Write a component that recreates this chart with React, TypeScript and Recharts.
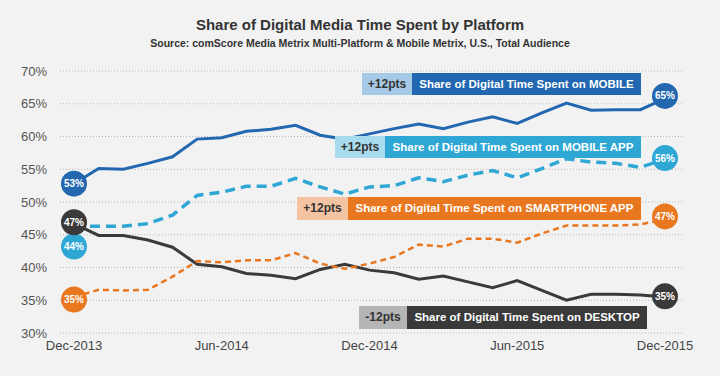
import React from 'react';
import {
    LineChart,
    Line,
    XAxis,
    YAxis,
    CartesianGrid,
    ReferenceDot,
} from 'recharts';

const months = [
    'Dec-2013', 'Jan-2014', 'Feb-2014', 'Mar-2014', 'Apr-2014', 'May-2014', 'Jun-2014',
    'Jul-2014', 'Aug-2014', 'Sep-2014', 'Oct-2014', 'Nov-2014', 'Dec-2014',
    'Jan-2015', 'Feb-2015', 'Mar-2015', 'Apr-2015', 'May-2015', 'Jun-2015',
    'Jul-2015', 'Aug-2015', 'Sep-2015', 'Oct-2015', 'Nov-2015', 'Dec-2015',
];

const mobile = [52.8, 55.1, 55.0, 55.9, 56.9, 59.6, 59.8, 60.8, 61.1, 61.7, 60.2, 59.6, 60.4, 61.2, 61.9, 61.2, 62.2, 63.0, 62.0, 63.6, 65.1, 64.0, 64.1, 64.1, 65.8];
const mobileApp = [46.3, 46.3, 46.3, 46.7, 48.0, 51.0, 51.5, 52.4, 52.4, 53.6, 52.3, 51.2, 52.3, 52.5, 53.7, 53.1, 54.1, 54.8, 53.7, 55.1, 56.6, 56.1, 55.9, 55.3, 56.5];
const smartphoneApp = [35.5, 36.6, 36.5, 36.6, 38.6, 41.0, 40.8, 41.1, 41.1, 42.2, 40.6, 39.8, 40.6, 41.6, 43.5, 43.2, 44.4, 44.4, 43.8, 45.2, 46.4, 46.4, 46.4, 46.6, 47.3];
const desktop = [46.7, 44.9, 44.9, 44.2, 43.1, 40.5, 40.1, 39.1, 38.8, 38.3, 39.7, 40.5, 39.6, 39.2, 38.2, 38.7, 37.8, 36.9, 38.0, 36.5, 35.0, 35.9, 35.9, 35.8, 35.5];

const yTicks = [30, 35, 40, 45, 50, 55, 60, 65, 70];

// badge circles at each end of the series
const badgeColors = ['#2267b0', '#2ea7d5', '#e8771f', '#3a3a3a'];
const startBadgeY = [52.8, 43.2, 35.1, 46.9];
const startBadgeText = ['53%', '44%', '35%', '47%'];
const endBadgeY = [66.2, 56.7, 47.8, 35.6];
const endBadgeText = ['65%', '56%', '47%', '35%'];

const labelNames = [
    'Share of Digital Time Spent on MOBILE',
    'Share of Digital Time Spent on MOBILE APP',
    'Share of Digital Time Spent on SMARTPHONE APP',
    'Share of Digital Time Spent on DESKTOP',
];
const labelDeltas = ['+12pts', '+12pts', '+12pts', '-12pts'];
const labelLight = ['#a6c9e8', '#a9dbee', '#f4c4a2', '#b5b5b5'];

const data = months.map((m, i) => ({
    month: m,
    mobile: mobile[i],
    mobileApp: mobileApp[i],
    smartphoneApp: smartphoneApp[i],
    desktop: desktop[i],
}));

const FONT = '"Liberation Sans", Arial, Helvetica, sans-serif';

// box geometry: [lightLeft, split, right, top, height]
const boxes = [
    [362, 412, 641, 73, 22],
    [335, 385, 641, 136, 22],
    [297, 348, 641, 197, 23],
    [359, 407, 647, 306, 23],
];

function Badge(props: any, color: string, text: string) {
    const { cx, cy } = props;
    return (
        <g>
            <circle cx={cx} cy={cy} r={13} fill={color} />
            <text
                x={cx}
                y={cy + 3.5}
                textAnchor="middle"
                fill="#fff"
                fontSize={10}
                fontWeight="bold"
                fontFamily={FONT}
            >
                {text}
            </text>
        </g>
    );
}

export default function App() {
    return (
        <div
            style={{
                position: 'absolute',
                left: 0,
                top: 0,
                width: 720,
                height: 376,
                background: '#f2f2f2',
                fontFamily: FONT,
                overflow: 'hidden',
            }}
        >
            <div
                style={{
                    position: 'absolute',
                    top: 16,
                    width: 720,
                    textAlign: 'center',
                    fontSize: 15,
                    fontWeight: 'bold',
                    color: '#333',
                }}
            >
                Share of Digital Media Time Spent by Platform
            </div>
            <div
                style={{
                    position: 'absolute',
                    top: 37,
                    width: 720,
                    textAlign: 'center',
                    fontSize: 10.5,
                    fontWeight: 'bold',
                    color: '#333',
                }}
            >
                Source: comScore Media Metrix Multi-Platform &amp; Mobile Metrix, U.S., Total Audience
            </div>

            <div style={{ position: 'absolute', left: 0, top: 0 }}>
                <LineChart
                    width={720}
                    height={376}
                    data={data}
                    margin={{ top: 71, right: 38, bottom: 13, left: 8 }}
                >
                    <CartesianGrid
                        vertical={false}
                        stroke="#b8b8b8"
                        strokeDasharray="1 2"
                    />
                    <XAxis
                        dataKey="month"
                        interval={5}
                        padding={{ left: 14, right: 17 }}
                        axisLine={false}
                        tickLine={false}
                        tickSize={0}
                        tickMargin={8}
                        height={30}
                        tick={{ fill: '#444', fontSize: 13, fontFamily: FONT }}
                    />
                    <YAxis
                        domain={[30, 70]}
                        ticks={yTicks}
                        width={52}
                        axisLine={false}
                        tickLine={false}
                        tickSize={0}
                        tickMargin={13}
                        tickFormatter={(v: number) => `${v}%`}
                        tick={{ fill: '#555', fontSize: 13, fontFamily: FONT }}
                    />
                    <Line
                        type="linear"
                        dataKey="desktop"
                        stroke={badgeColors[3]}
                        strokeWidth={3}
                        dot={false}
                        isAnimationActive={false}
                    />
                    <Line
                        type="linear"
                        dataKey="smartphoneApp"
                        stroke={badgeColors[2]}
                        strokeWidth={2.5}
                        strokeDasharray="6 4"
                        dot={false}
                        isAnimationActive={false}
                    />
                    <Line
                        type="linear"
                        dataKey="mobileApp"
                        stroke={badgeColors[1]}
                        strokeWidth={3.5}
                        strokeDasharray="10 6"
                        dot={false}
                        isAnimationActive={false}
                    />
                    <Line
                        type="linear"
                        dataKey="mobile"
                        stroke={badgeColors[0]}
                        strokeWidth={3}
                        dot={false}
                        isAnimationActive={false}
                    />
                    {startBadgeY.map((y, i) => (
                        <ReferenceDot
                            key={`s${i}`}
                            x={months[0]}
                            y={y}
                            r={13}
                            shape={(p: any) => Badge(p, badgeColors[i], startBadgeText[i])}
                        />
                    ))}
                    {endBadgeY.map((y, i) => (
                        <ReferenceDot
                            key={`e${i}`}
                            x={months[months.length - 1]}
                            y={y}
                            r={13}
                            shape={(p: any) => Badge(p, badgeColors[i], endBadgeText[i])}
                        />
                    ))}
                </LineChart>
            </div>

            {boxes.map((b, i) => (
                <React.Fragment key={i}>
                    <div
                        style={{
                            position: 'absolute',
                            left: b[0],
                            top: b[3],
                            width: b[1] - b[0],
                            height: b[4],
                            lineHeight: `${b[4]}px`,
                            background: labelLight[i],
                            color: '#333',
                            fontSize: 12,
                            fontWeight: 'bold',
                            textAlign: 'center',
                        }}
                    >
                        {labelDeltas[i]}
                    </div>
                    <div
                        style={{
                            position: 'absolute',
                            left: b[1],
                            top: b[3],
                            width: b[2] - b[1],
                            height: b[4],
                            lineHeight: `${b[4]}px`,
                            background: badgeColors[i],
                            color: '#fff',
                            fontSize: 11.5,
                            fontWeight: 'bold',
                            textAlign: 'center',
                            whiteSpace: 'nowrap',
                        }}
                    >
                        {labelNames[i]}
                    </div>
                </React.Fragment>
            ))}
        </div>
    );
}
